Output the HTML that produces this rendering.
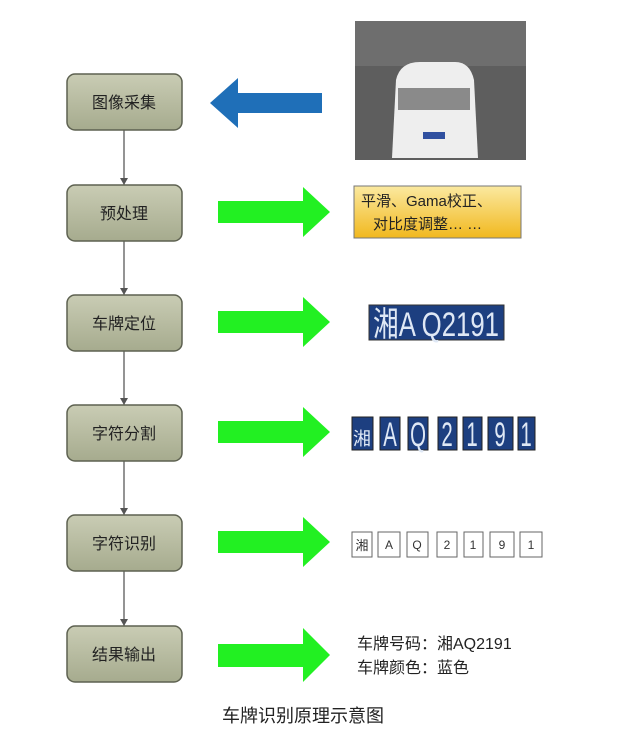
<!DOCTYPE html>
<html><head><meta charset="utf-8"><style>
html,body{margin:0;padding:0;background:#fff;}
svg{display:block;}
text{font-family:"Liberation Sans","Noto Sans CJK SC",sans-serif;}
</style></head><body>
<svg width="644" height="735" viewBox="0 0 644 735" xmlns="http://www.w3.org/2000/svg">
<defs>
<linearGradient id="bx" x1="0" y1="0" x2="0" y2="1"><stop offset="0" stop-color="#c9ccb4"/><stop offset="1" stop-color="#a6ab8e"/></linearGradient>
<linearGradient id="yl" x1="0" y1="0" x2="0" y2="1"><stop offset="0" stop-color="#fbe9a0"/><stop offset="1" stop-color="#f1b81e"/></linearGradient>
</defs>
<g stroke="#5a5a5a" stroke-width="1.3">
<line x1="124" y1="130" x2="124" y2="185"/><line x1="124" y1="241" x2="124" y2="295"/><line x1="124" y1="351" x2="124" y2="405"/><line x1="124" y1="461" x2="124" y2="515"/><line x1="124" y1="571" x2="124" y2="626"/>
</g>
<g fill="#555"><path d="M120,178 L128,178 L124,185Z"/><path d="M120,288 L128,288 L124,295Z"/><path d="M120,398 L128,398 L124,405Z"/><path d="M120,508 L128,508 L124,515Z"/><path d="M120,619 L128,619 L124,626Z"/></g>
<g fill="url(#bx)" stroke="#5d6150" stroke-width="1.5">
<rect x="67" y="74" width="115" height="56" rx="8"/><rect x="67" y="185" width="115" height="56" rx="8"/><rect x="67" y="295" width="115" height="56" rx="8"/><rect x="67" y="405" width="115" height="56" rx="8"/><rect x="67" y="515" width="115" height="56" rx="8"/><rect x="67" y="626" width="115" height="56" rx="8"/>
</g>
<g font-size="16" fill="#222" text-anchor="middle">
<text x="124" y="108">图像采集</text><text x="124" y="219">预处理</text><text x="124" y="329">车牌定位</text><text x="124" y="439">字符分割</text><text x="124" y="549">字符识别</text><text x="124" y="660">结果输出</text>
</g>
<path d="M210,103 L238,78 L238,93 L322,93 L322,113 L238,113 L238,128 Z" fill="#1f6fb8"/>
<g fill="#22f022">
<path d="M218,201 L303,201 L303,187 L330,212 L303,237 L303,223 L218,223 Z"/>
<path d="M218,311 L303,311 L303,297 L330,322 L303,347 L303,333 L218,333 Z"/>
<path d="M218,421 L303,421 L303,407 L330,432 L303,457 L303,443 L218,443 Z"/>
<path d="M218,531 L303,531 L303,517 L330,542 L303,567 L303,553 L218,553 Z"/>
<path d="M218,644 L303,644 L303,628 L330,655 L303,682 L303,667 L218,667 Z"/>
</g>
<rect x="355" y="21" width="171" height="139" fill="#5e5e5e"/>
<rect x="355" y="21" width="171" height="45" fill="#6e6e6e"/>
<path d="M396,80 Q400,62 420,62 L455,62 Q470,62 474,80 L478,158 L392,158 Z" fill="#eeeeee"/>
<rect x="398" y="88" width="72" height="22" fill="#8a8a8a"/>
<rect x="423" y="132" width="22" height="7" fill="#3050a0"/>
<rect x="354" y="186" width="167" height="52" fill="url(#yl)" stroke="#777"/>
<text x="361" y="206" font-size="15" fill="#222">平滑、Gama校正、</text>
<text x="373" y="229" font-size="15" fill="#222">对比度调整… …</text>
<rect x="369" y="305" width="135" height="35" fill="#1d3f80" stroke="#333"/>
<text x="373" y="336" font-size="34" fill="#dfe8f5" textLength="126" lengthAdjust="spacingAndGlyphs">湘A Q2191</text>
<g fill="#1d3f80" stroke="#222">
<rect x="352" y="417" width="21" height="33"/><rect x="380" y="417" width="20" height="33"/><rect x="408" y="417" width="20" height="33"/><rect x="438" y="417" width="19" height="33"/><rect x="463" y="417" width="19" height="33"/><rect x="488" y="417" width="25" height="33"/><rect x="518" y="417" width="17" height="33"/>
</g>
<g font-size="34" fill="#dfe8f5" text-anchor="middle">
<text x="362" y="445" font-size="18" transform="translate(362,0) scale(1,1) translate(-362,0)">湘</text>
<text transform="translate(390,446) scale(0.6,1)">A</text><text transform="translate(418,446) scale(0.6,1)">Q</text><text transform="translate(447,446) scale(0.6,1)">2</text><text transform="translate(472,446) scale(0.6,1)">1</text><text transform="translate(500,446) scale(0.6,1)">9</text><text transform="translate(526,446) scale(0.6,1)">1</text>
</g>
<g fill="#fff" stroke="#666">
<rect x="352" y="532" width="20" height="25"/><rect x="378" y="532" width="22" height="25"/><rect x="407" y="532" width="21" height="25"/><rect x="437" y="532" width="20" height="25"/><rect x="464" y="532" width="19" height="25"/><rect x="490" y="532" width="24" height="25"/><rect x="520" y="532" width="22" height="25"/>
</g>
<g font-size="12" fill="#333" text-anchor="middle">
<text x="362" y="550" font-size="13">湘</text><text x="389" y="549">A</text><text x="417" y="549">Q</text><text x="447" y="549">2</text><text x="473" y="549">1</text><text x="502" y="549">9</text><text x="531" y="549">1</text>
</g>
<text x="357" y="649" font-size="16" fill="#222">车牌号码：湘AQ2191</text>
<text x="357" y="673" font-size="16" fill="#222">车牌颜色：蓝色</text>
<text x="303" y="722" font-size="18" fill="#222" text-anchor="middle">车牌识别原理示意图</text>
</svg>
</body></html>
